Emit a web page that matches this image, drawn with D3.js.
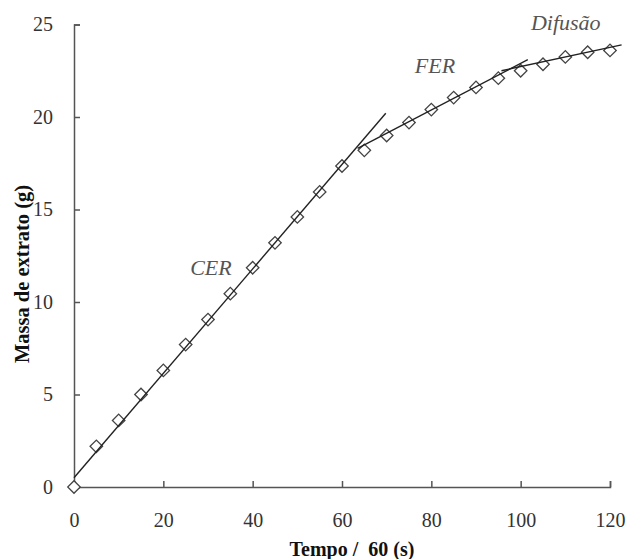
<!DOCTYPE html>
<html><head><meta charset="utf-8">
<script src="https://cdn.jsdelivr.net/npm/d3@7"></script>
<style>
body{margin:0;background:#fff}
svg{display:block}
svg text{font-family:"Liberation Serif","Times New Roman",Tinos,serif !important}
</style>
</head><body>
<svg id="c" width="628" height="559"></svg>
<script>
const tempo = [0,5,10,15,20,25,30,35,40,45,50,55,60,65,70,75,80,85,90,95,100,105,110,115,120];
const massa = [0,2.2,3.6,5.0,6.3,7.7,9.05,10.45,11.85,13.2,14.6,15.95,17.35,18.2,19.0,19.7,20.4,21.05,21.6,22.1,22.5,22.85,23.25,23.5,23.6];
const cerLine = [[0,0.5],[69.8,20.2]];
const ferLine = [[63.5,18.3],[101.6,23.1]];
const difLine = [[95.7,22.5],[122.6,23.9]];
const regionLabels = [{t:"CER",x:26.0,y:11.46},{t:"FER",x:76.3,y:22.38},{t:"Difusão",x:102.3,y:24.7}];
const xTicks = [0,20,40,60,80,100,120];
const yTicks = [0,5,10,15,20,25];

const svg = d3.select("#c");
const x = d3.scaleLinear().domain([0,120]).range([74,610]);
const y = d3.scaleLinear().domain([0,25]).range([487,24.5]);
const axCol = "#555";

const gx = svg.append("g").attr("transform",`translate(0,${y(0)})`)
  .call(d3.axisBottom(x).tickValues(xTicks).tickSizeInner(-6).tickSizeOuter(-6).tickPadding(26));
const gy = svg.append("g").attr("transform",`translate(${x(0)},0)`)
  .call(d3.axisLeft(y).tickValues(yTicks).tickSizeInner(-6).tickSizeOuter(-6).tickPadding(21));
[gx,gy].forEach(g=>{
  g.attr("font-family",null).attr("font-size",null);
  g.selectAll("path,line").attr("stroke",axCol).attr("stroke-width",1.5);
  g.selectAll("text").style("font-size","20px").attr("fill","#333");
});

// markers
svg.append("g").selectAll("path").data(tempo.map((t,i)=>[t,massa[i]])).join("path")
  .attr("d", d3.symbol().type(d3.symbolSquare).size(78))
  .attr("transform", d=>`translate(${x(d[0])},${y(d[1])}) rotate(45)`)
  .attr("fill","#fff").attr("stroke","#444").attr("stroke-width",1.3);

const line = d3.line().x(d=>x(d[0])).y(d=>y(d[1]));
[cerLine,ferLine,difLine].forEach(l=>{
  svg.append("path").attr("d",line(l)).attr("fill","none").attr("stroke","#222").attr("stroke-width",1.4);
});

svg.append("g").selectAll("text").data(regionLabels).join("text")
  .attr("x",d=>x(d.x)).attr("y",d=>y(d.y))
  .style("font-style","italic").style("font-size","22px").attr("fill","#555")
  .text(d=>d.t);

svg.append("text").attr("x",352).attr("y",556).attr("text-anchor","middle")
  .style("font-weight","bold").style("font-size","20px").attr("fill","#111")
  .style("white-space","pre").text("Tempo /  60 (s)");
svg.append("text").attr("transform",`translate(29,274) rotate(-90)`).attr("text-anchor","middle")
  .style("font-weight","bold").style("font-size","20.5px").attr("fill","#111")
  .text("Massa de extrato (g)");
</script>
</body></html>
